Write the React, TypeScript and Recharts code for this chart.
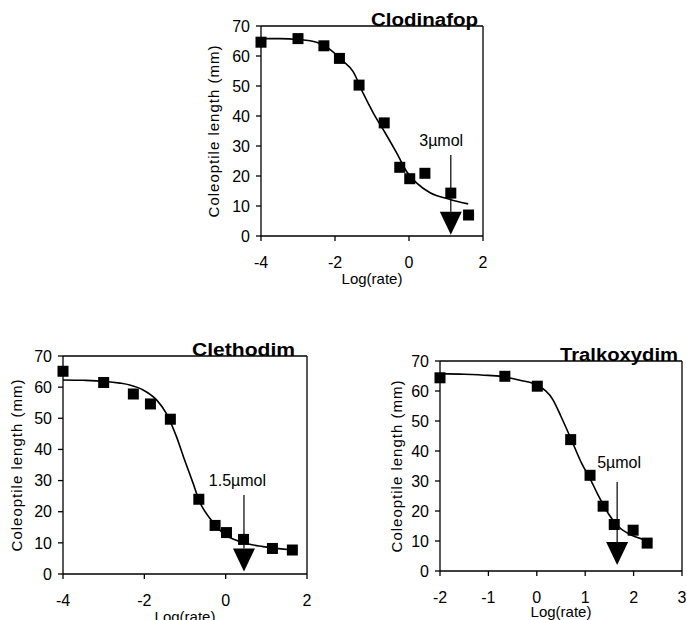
import {
  ComposedChart,
  Line,
  Scatter,
  XAxis,
  YAxis,
  ReferenceLine,
  ReferenceDot,
  Label,
} from "recharts"

// measured points (log rate, coleoptile length mm)
const clodinafopX = [-4, -3, -2.3, -1.88, -1.35, -0.67, -0.25, 0.02, 0.43, 1.13, 1.61]
const clodinafopY = [64.6, 65.8, 63.4, 59.2, 50.3, 37.7, 22.9, 19.1, 20.9, 14.3, 7.0]
const clodinafopFitX = [-4, -3.5, -3, -2.5, -2.2, -1.82, -1.51, -1.24, -0.96, -0.65, -0.33, -0.06, 0.21, 0.57, 1.11, 1.6]
const clodinafopFitY = [65.8, 65.8, 65.5, 64.6, 62.8, 58.7, 54.8, 47.6, 40.9, 34.5, 27.6, 21.4, 17.6, 14.4, 12.2, 10.7]

const clethodimX = [-4, -3, -2.27, -1.85, -1.36, -0.66, -0.26, 0.02, 0.44, 1.15, 1.64]
const clethodimY = [65.1, 61.5, 57.8, 54.6, 49.7, 24.0, 15.6, 13.3, 11.1, 8.2, 7.7]
const clethodimFitX = [-4, -3.5, -3, -2.6, -2.36, -2.03, -1.7, -1.46, -1.21, -1.01, -0.8, -0.64, -0.39, -0.07, 0.43, 0.92, 1.66]
const clethodimFitY = [62.3, 62.2, 61.9, 61.3, 60.7, 59.1, 55.9, 51.6, 44.1, 36.6, 29.1, 23.2, 17.9, 13.1, 10.1, 8.8, 7.7]

const tralkoxydimX = [-2, -0.66, 0.01, 0.7, 1.1, 1.37, 1.6, 1.99, 2.28]
const tralkoxydimY = [64.4, 64.9, 61.6, 43.8, 31.9, 21.6, 15.5, 13.6, 9.3]
const tralkoxydimFitX = [-2, -1.5, -1, -0.66, -0.35, 0.01, 0.34, 0.5, 0.7, 0.93, 1.1, 1.27, 1.48, 1.68, 1.96, 2.28]
const tralkoxydimFitY = [65.8, 65.6, 65.2, 64.7, 63.6, 61.9, 56.9, 51.5, 44.3, 35.8, 30.8, 25.2, 19.1, 14.9, 11.9, 10.2]

// threshold arrows: [x, top of shaft, top of head]
const clodinafopArrow = [1.13, 27, 8.1]
const clethodimArrow = [0.45, 25.4, 8.2]
const tralkoxydimArrow = [1.66, 29.7, 9.7]
// arrow labels: [x, y]
const clodinafopNote = [0.87, 32]
const clethodimNote = [0.29, 30.2]
const tralkoxydimNote = [1.7, 36.3]

const yTicks = [0, 10, 20, 30, 40, 50, 60, 70]
const wideTicks = [-4, -2, 0, 2]
const narrowTicks = [-2, -1, 0, 1, 2, 3]

const zip = (xs: number[], ys: number[]) => xs.map((x, i) => ({ x, y: ys[i] }))

const FONT = '"Liberation Sans", Arial, Helvetica, sans-serif'
const INK = "#000"

const squareShape = (p: any) => (
  <rect x={p.cx - 5.5} y={p.cy - 5.5} width={11} height={11} fill={INK} />
)

const headShape = (p: any) => (
  <polygon
    points={`${p.cx - 11},${p.cy} ${p.cx + 11},${p.cy} ${p.cx},${p.cy + 23}`}
    fill={INK}
  />
)

type PanelProps = {
  title: string
  titleLength: number
  titleInset: number
  points: { x: number; y: number }[]
  fit: { x: number; y: number }[]
  arrow: number[]
  note: number[]
  noteText: string
  xDomain: [number, number]
  xTicks: number[]
  left: number
  top: number
  width: number
  height: number
  marginTop: number
  marginRight: number
  yAxisWidth: number
  xAxisHeight: number
  yLabelOffset: number
  xLabelOffset: number
}

function Panel(props: PanelProps) {
  const {
    title, titleLength, titleInset, points, fit, arrow, note, noteText,
    xDomain, xTicks, left, top, width, height, marginTop, marginRight,
    yAxisWidth, xAxisHeight, yLabelOffset, xLabelOffset,
  } = props
  const tick = { fill: INK, fontSize: 16, fontFamily: FONT }
  const line = { stroke: INK, strokeWidth: 1.3 }
  return (
    <div style={{ position: "absolute", left, top }}>
      <ComposedChart
        width={width}
        height={height}
        margin={{ top: marginTop, right: marginRight, bottom: 0, left: 0 }}
      >
        <XAxis
          type="number"
          dataKey="x"
          domain={xDomain}
          ticks={xTicks}
          height={xAxisHeight}
          tick={tick}
          tickSize={5}
          tickMargin={16}
          axisLine={line}
          tickLine={line}
        >
          <Label
            value="Log(rate)"
            position="insideBottom"
            offset={xLabelOffset}
            fill={INK}
            fontSize={15}
            fontFamily={FONT}
          />
        </XAxis>
        <YAxis
          type="number"
          dataKey="y"
          domain={[0, 70]}
          ticks={yTicks}
          width={yAxisWidth}
          tick={tick}
          tickSize={5}
          tickMargin={6}
          axisLine={line}
          tickLine={line}
        >
          <Label
            value="Coleoptile length (mm)"
            angle={-90}
            position="insideLeft"
            offset={yLabelOffset}
            fill={INK}
            fontSize={15}
            fontFamily={FONT}
            style={{ textAnchor: "middle", letterSpacing: 1 }}
          />
        </YAxis>
        <ReferenceLine y={70} stroke={INK} strokeWidth={1.3} />
        <ReferenceLine x={xDomain[1]} stroke={INK} strokeWidth={1.3} />
        <Line
          data={fit}
          dataKey="y"
          type="monotone"
          stroke={INK}
          strokeWidth={1.6}
          dot={false}
          activeDot={false}
          isAnimationActive={false}
        />
        <Scatter data={points} dataKey="y" shape={squareShape} isAnimationActive={false} />
        <ReferenceLine
          segment={[
            { x: arrow[0], y: arrow[1] },
            { x: arrow[0], y: arrow[2] },
          ]}
          stroke={INK}
          strokeWidth={1.2}
        />
        <Scatter
          data={[{ x: arrow[0], y: arrow[2] }]}
          dataKey="y"
          shape={headShape}
          isAnimationActive={false}
        />
        <ReferenceDot
          x={note[0]}
          y={note[1]}
          r={0}
          stroke="none"
          label={{ value: noteText, position: "center", fill: INK, fontSize: 16, fontFamily: FONT }}
        />
        <text
          x={width - marginRight - titleInset}
          y={marginTop}
          textAnchor="end"
          fontFamily={FONT}
          fontWeight="bold"
          fontSize={18}
          fill={INK}
          textLength={titleLength}
          lengthAdjust="spacingAndGlyphs"
        >
          {title}
        </text>
      </ComposedChart>
    </div>
  )
}

export default function App() {
  return (
    <div
      style={{
        position: "absolute",
        left: 0,
        top: 0,
        width: 687,
        height: 620,
        overflow: "hidden",
        background: "#fff",
        fontFamily: FONT,
      }}
    >
      <Panel
        title="Clodinafop"
        titleLength={107}
        titleInset={5}
        points={zip(clodinafopX, clodinafopY)}
        fit={zip(clodinafopFitX, clodinafopFitY)}
        arrow={clodinafopArrow}
        note={clodinafopNote}
        noteText="3µmol"
        xDomain={[-4, 2]}
        xTicks={wideTicks}
        left={195}
        top={0}
        width={295}
        height={290}
        marginTop={26}
        marginRight={7}
        yAxisWidth={66}
        xAxisHeight={54}
        yLabelOffset={19}
        xLabelOffset={6}
      />
      <Panel
        title="Clethodim"
        titleLength={103}
        titleInset={12}
        points={zip(clethodimX, clethodimY)}
        fit={zip(clethodimFitX, clethodimFitY)}
        arrow={clethodimArrow}
        note={clethodimNote}
        noteText="1.5µmol"
        xDomain={[-4, 2]}
        xTicks={wideTicks}
        left={0}
        top={330}
        width={315}
        height={300}
        marginTop={26}
        marginRight={8}
        yAxisWidth={63}
        xAxisHeight={56}
        yLabelOffset={17}
        xLabelOffset={8}
      />
      <Panel
        title="Tralkoxydim"
        titleLength={118}
        titleInset={4}
        points={zip(tralkoxydimX, tralkoxydimY)}
        fit={zip(tralkoxydimFitX, tralkoxydimFitY)}
        arrow={tralkoxydimArrow}
        note={tralkoxydimNote}
        noteText="5µmol"
        xDomain={[-2, 3]}
        xTicks={narrowTicks}
        left={380}
        top={330}
        width={307}
        height={300}
        marginTop={31}
        marginRight={5}
        yAxisWidth={60}
        xAxisHeight={59}
        yLabelOffset={17}
        xLabelOffset={13}
      />
    </div>
  )
}
